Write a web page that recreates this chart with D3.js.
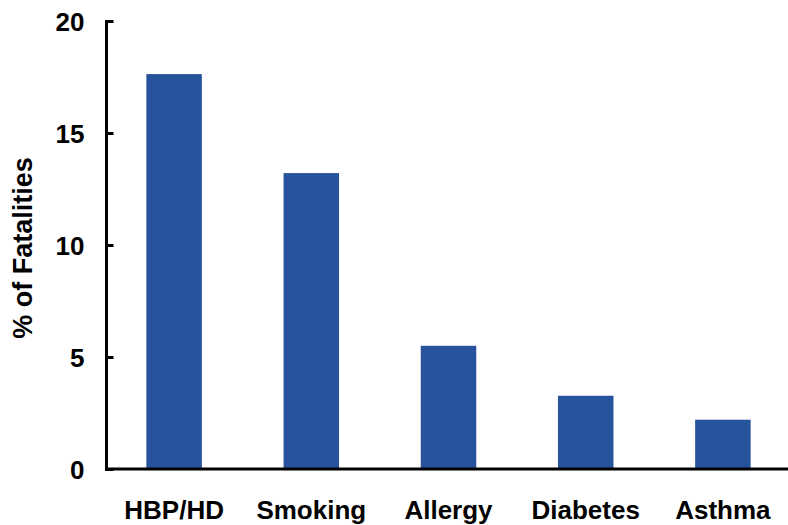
<!DOCTYPE html>
<html><head><meta charset="utf-8">
<script src="https://cdn.jsdelivr.net/npm/d3@7"></script>
<style>body{margin:0;background:#fff}svg{display:block}text{font-family:"Liberation Sans",Arial,Helvetica,sans-serif;font-weight:bold;fill:#000}</style>
</head><body>
<script>
const categories = ["HBP/HD", "Smoking", "Allergy", "Diabetes", "Asthma"];
const values = [17.63, 13.21, 5.5, 3.27, 2.2];
const yTicks = [0, 5, 10, 15, 20];
const yTitle = "% of Fatalities";

const W = 788, H = 525;
const svg = d3.select("body").append("svg").attr("width", W).attr("height", H);

const x = d3.scaleBand().domain(categories).range([105.5, 791.5]).paddingInner(0).paddingOuter(0);
const y = d3.scaleLinear().domain([0, 20]).range([469, 21]);
const bw = 55.5;

svg.selectAll("rect.bar").data(values).enter().append("rect")
  .attr("class", "bar")
  .attr("x", (d, i) => x(categories[i]) + x.bandwidth() / 2 - bw / 2)
  .attr("y", d => y(d))
  .attr("width", bw)
  .attr("height", d => y(0) - y(d))
  .attr("fill", "#27529c");

// y axis
const yAxis = d3.axisLeft(y).tickValues(yTicks).tickSize(-7).tickPadding(0).tickFormat(d3.format("d"));
const gy = svg.append("g").attr("transform", "translate(106.5,0)").call(yAxis);
gy.select(".domain").attr("stroke", "#000").attr("stroke-width", 3).attr("d", `M0,${y(20)}V${y(0)}`);
gy.selectAll(".tick line").attr("stroke", "#000").attr("stroke-width", 3).attr("x1", -1.5);
gy.selectAll(".tick text").attr("x", -22).attr("font-size", 26).attr("dy", "0.36em")
  .style("font-family", '"Liberation Sans",Arial,sans-serif').style("font-weight", "bold").attr("fill", "#000");

// x axis
const xAxis = d3.axisBottom(x).tickSize(0).tickPadding(0);
const gx = svg.append("g").attr("transform", `translate(0,${y(0)})`).call(xAxis);
gx.select(".domain").attr("stroke", "#000").attr("stroke-width", 3).attr("d", `M105,0H788`);
gx.selectAll(".tick").attr("transform", d => `translate(${x(d) + x.bandwidth() / 2},0)`);
gx.selectAll(".tick text").attr("y", 50).attr("dy", 0).attr("font-size", 26)
  .style("font-family", '"Liberation Sans",Arial,sans-serif').style("font-weight", "bold").attr("fill", "#000");

svg.append("text").attr("transform", "translate(32,248) rotate(-90)")
  .attr("text-anchor", "middle").attr("font-size", 27).text(yTitle);
</script>
</body></html>
